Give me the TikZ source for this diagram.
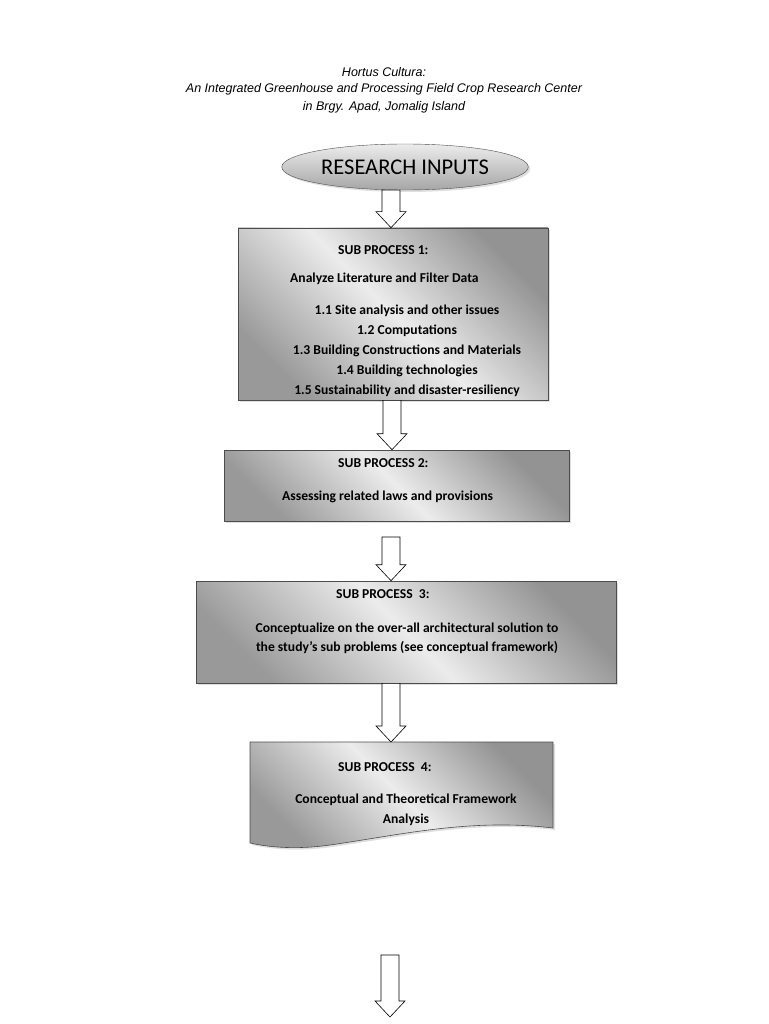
\documentclass[tikz,border=0pt]{standalone}
\usepackage{fontspec}
\setmainfont{Carlito}
\newfontfamily\titlefont{Liberation Sans}
\usetikzlibrary{shapes.geometric,shadows,calc}
\begin{document}
\begin{tikzpicture}[x=1pt,y=-1pt,
  boxsh/.style={draw=gray!60!black,line width=0.6pt,left color=gray!80,right color=gray!85,middle color=gray!15,shading angle=135,drop shadow={shadow xshift=2pt,shadow yshift=-2pt,fill=gray!50}},
  boxtxt/.style={font=\bfseries\fontsize{13.6}{15}\selectfont,inner sep=0pt},
  barrow/.style={draw=black,line width=0.6pt,fill=white},
  ttl/.style={font=\titlefont\itshape\fontsize{12.5}{14}\selectfont,inner sep=0pt}]
\useasboundingbox (0,0) rectangle (768,1024);
\node[ttl] (t1) at (384,72) {Hortus Cultura:};
\node[ttl] (t2) at (384,89) {An Integrated Greenhouse and Processing Field Crop Research Center};
\node[ttl] (t3) at (384,107) {in Brgy. Apad, Jomalig Island};

\node[ellipse,minimum width=210pt,minimum height=46pt,draw=gray!60!black,top color=gray!15,bottom color=gray!70,drop shadow={shadow xshift=2pt,shadow yshift=-2pt,fill=gray!50},font=\fontsize{22.5}{24}\selectfont] (ri) at (405,167) {RESEARCH INPUTS};

\node[boxsh,minimum width=310pt,minimum height=172pt,inner sep=0pt] (b1) at (393,314) {};
\node[boxtxt,anchor=west] (b1a) at (338,250) {SUB PROCESS 1:};
\node[boxtxt,anchor=west] (b1b) at (290,279) {Analyze Literature and Filter Data};
\node[boxtxt] (b1c) at (407,311) {1.1 Site analysis and other issues};
\node[boxtxt] (b1d) at (407,331) {1.2 Computations};
\node[boxtxt] (b1e) at (407,351) {1.3 Building Constructions and Materials};
\node[boxtxt] (b1f) at (407,371) {1.4 Building technologies};
\node[boxtxt] (b1g) at (407,391) {1.5 Sustainability and disaster-resiliency};

\node[boxsh,minimum width=345pt,minimum height=71pt,inner sep=0pt] (b2) at (396.5,485.5) {};
\node[boxtxt,anchor=west] (b2a) at (338,463) {SUB PROCESS 2:};
\node[boxtxt,anchor=west] (b2b) at (282,497) {Assessing related laws and provisions};

\node[boxsh,minimum width=420pt,minimum height=102pt,inner sep=0pt] (b3) at (406,632) {};
\node[boxtxt,anchor=west] (b3a) at (336,594) {SUB PROCESS~~3:};
\node[boxtxt] (b3b) at (407,629) {Conceptualize on the over-all architectural solution to};
\node[boxtxt] (b3c) at (407,648) {the study’s sub problems (see conceptual framework)};

\path[boxsh] (250,742) -- (553,742) -- (553,828) .. controls (470,818) and (400,835) .. (330,845) .. controls (295,850) and (268,847) .. (250,843) -- cycle;
\coordinate (b4n) at (391,742);
\node[boxtxt,anchor=west] (b4a) at (338,767) {SUB PROCESS~~4:};
\node[boxtxt] (b4b) at (406,800) {Conceptual and Theoretical Framework};
\node[boxtxt] (b4c) at (406,820) {Analysis};

\coordinate (a5s) at (390,955);
\coordinate (a5e) at (390,1017);

\newcommand\blockarr[3]{%
  \path let \p1=(#1), \p2=(#2) in coordinate (bx1) at (#3,\y1) coordinate (bx2) at (#3,\y2);
  \path let \p1=(bx1), \p2=(bx2) in
    [barrow] (\x1-9,\y1) -- (\x1+9,\y1) -- (\x1+9,\y2+16) -- (\x1+15,\y2+16) -- (\x1,\y2) -- (\x1-15,\y2+16) -- (\x1-9,\y2+16) -- cycle;}
\blockarr{ri.south}{b1.north}{391}
\blockarr{b1.south}{b2.north}{392}
\coordinate (a3s) at (391,537);
\blockarr{a3s}{b3.north}{391}
\blockarr{b3.south}{b4n}{391}
\blockarr{a5s}{a5e}{390}
\end{tikzpicture}
\end{document}
